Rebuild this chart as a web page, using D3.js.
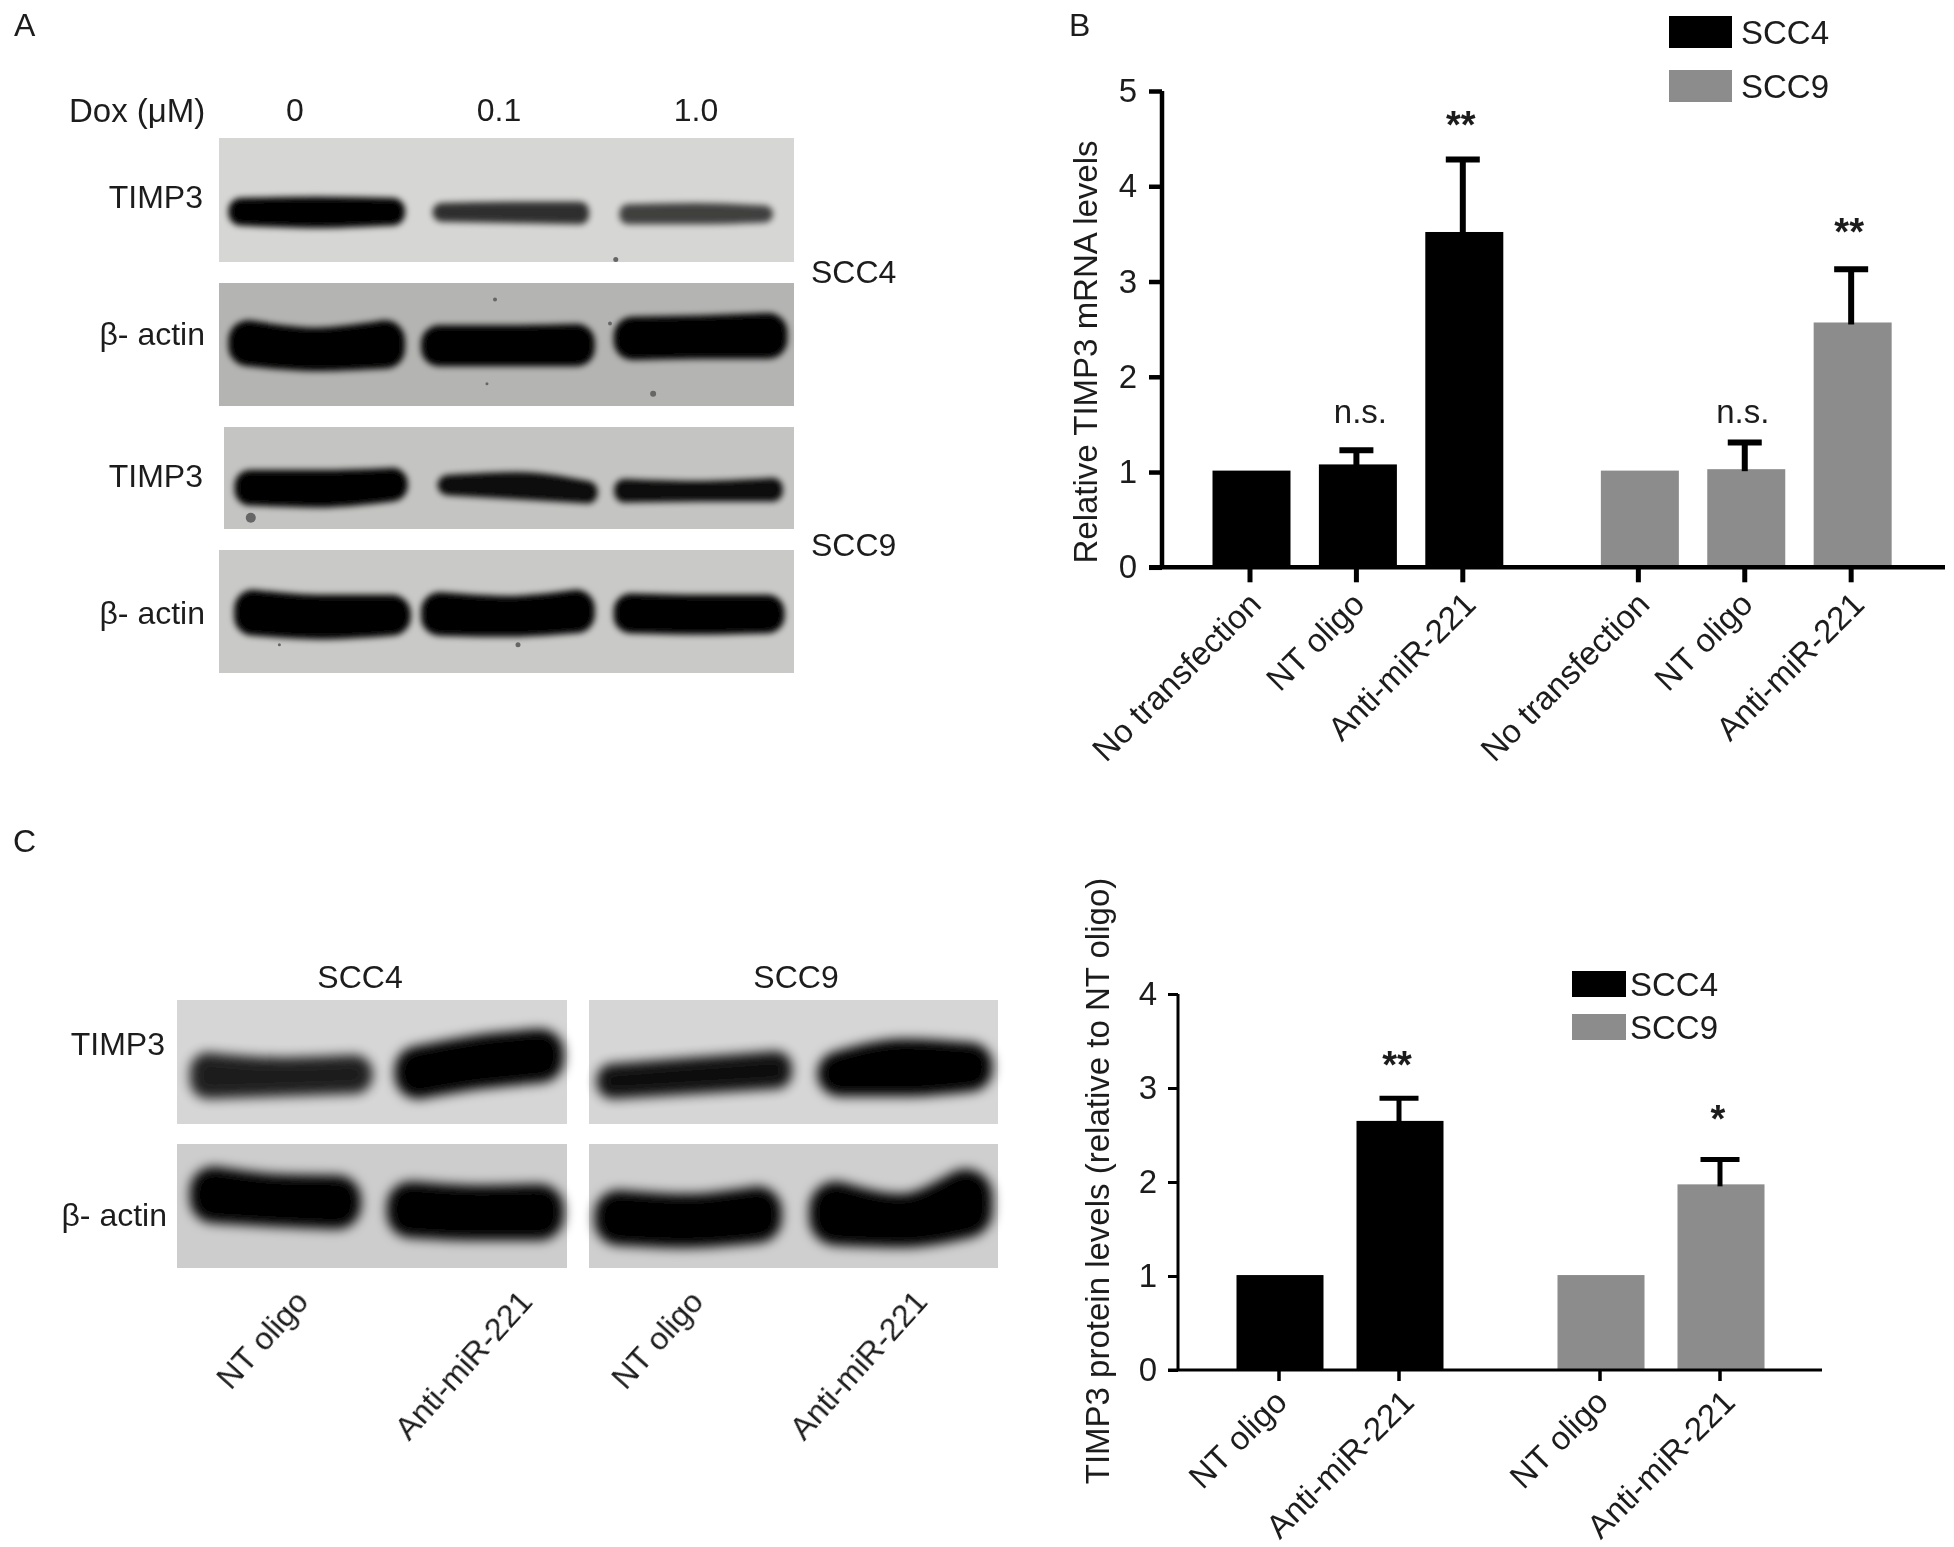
<!DOCTYPE html>
<html><head><meta charset="utf-8">
<script src="https://cdn.jsdelivr.net/npm/d3@7"></script>
<style>html,body{margin:0;background:#fff}svg{display:block}text{font-family:"Liberation Sans",Arial,sans-serif;fill:#1c1c1c}</style>
</head><body><svg id="c" width="1954" height="1547"></svg>
<script>
// ---------- data ----------
const seriesNames = ["SCC4", "SCC9"];
const mrnaCategories = ["No transfection", "NT oligo", "Anti-miR-221"];
const mrnaSCC4 = [1.015, 1.08, 3.52];
const mrnaSCC4Err = [null, 1.23, 4.28];
const mrnaSCC9 = [1.015, 1.03, 2.57];
const mrnaSCC9Err = [null, 1.31, 3.13];
const mrnaSig = [[null, "n.s.", "**"], [null, "n.s.", "**"]];
const proteinCategories = ["NT oligo", "Anti-miR-221"];
const proteinSCC4 = [1.01, 2.65];
const proteinSCC4Err = [null, 2.89];
const proteinSCC9 = [1.01, 1.975];
const proteinSCC9Err = [null, 2.24];
const proteinSig = [[null, "**"], [null, "*"]];
const doxDoses = ["0", "0.1", "1.0"];
// Western-blot bands as fractions of their own blot: [xStart, xEnd, tops, bottoms, darkness]
const bandsA1 = [[.02,.32,[.50,.49,.50],[.69,.71,.69],1],[.375,.64,[.54,.53,.53],[.66,.67,.68],.78],[.70,.96,[.55,.54,.56],[.68,.68,.66],.7]];
const bandsA2 = [[.02,.32,[.32,.38,.32],[.66,.70,.68],1],[.355,.65,[.36,.36,.35],[.66,.66,.66],1],[.69,.985,[.29,.28,.26],[.61,.60,.60],1]];
const bandsA3 = [[.024,.317,[.45,.45,.43],[.74,.76,.70],1],[.38,.65,[.50,.47,.56],[.62,.68,.72],.95],[.69,.975,[.54,.56,.53],[.71,.70,.70],.95]];
const bandsA4 = [[.03,.33,[.34,.38,.38],[.68,.71,.68],1],[.355,.65,[.36,.39,.34],[.68,.69,.66],1],[.69,.98,[.37,.38,.38],[.66,.67,.66],1]];
const bandsCTL = [[.045,.49,[.46,.50,.48],[.76,.74,.72],.85],[.57,.98,[.41,.32,.27],[.76,.68,.63],1]];
const bandsCTR = [[.03,.485,[.55,.50,.45],[.76,.72,.68],.92],[.57,.975,[.45,.35,.38],[.74,.74,.70],1]];
const bandsCBL = [[.045,.46,[.22,.28,.29],[.60,.63,.65],1],[.55,.98,[.34,.37,.36],[.72,.74,.74],1]];
const bandsCBR = [[.025,.46,[.41,.44,.38],[.78,.80,.76],1],[.55,.975,[.34,.44,.24],[.78,.78,.72],1]];
// Specks on the blots: [x fraction, y fraction, radius]
const specksA1 = [[.69,.98,2.5]];
const specksA2 = [[.48,.135,2],[.68,.33,2],[.755,.9,3],[.466,.82,1.5]];
const specksA3 = [[.047,.89,5]];
const specksA4 = [[.52,.77,2.5],[.105,.77,1.5]];

// ---------- helpers ----------
const root = d3.select("#c");
const defs = root.append("defs");
[[3,"b3"],[6,"b6"],[.6,"soft"]].forEach(([s,id]) =>
  defs.append("filter").attr("id",id).attr("filterUnits","userSpaceOnUse")
      .attr("x",0).attr("y",0).attr("width",1954).attr("height",1547)
      .append("feGaussianBlur").attr("stdDeviation",s));
const svg = root.append("g").attr("filter","url(#soft)");

function label(txt,x,y,size=32,anchor="start",extra={}){
  const t = svg.append("text").attr("x",x).attr("y",y).attr("font-size",size)
    .attr("text-anchor",anchor).attr("dominant-baseline","central").text(txt);
  Object.entries(extra).forEach(([k,v])=>t.attr(k,v));
  return t;
}
function blot(x0,x1,y0,y1,bg,bands,blur,grow,specks=[]){
  const g = svg.append("g");
  g.append("rect").attr("x",x0).attr("y",y0).attr("width",x1-x0).attr("height",y1-y0).attr("fill",bg);
  const sx = d3.scaleLinear().domain([0,1]).range([x0,x1]);
  const sy = d3.scaleLinear().domain([0,1]).range([y0,y1]);
  bands.forEach(([a,b,tops,bots,dark])=>{
    const h = sy(d3.mean(bots))-sy(d3.mean(tops));
    const s = h*.85;
    const xs = d3.scaleLinear().domain([0,tops.length-1]).range([sx(a)+s/2,sx(b)-s/2]);
    const area = d3.area().curve(d3.curveMonotoneX)
      .x((d,i)=>xs(i)).y0((d,i)=>sy(tops[i])+s/2).y1((d,i)=>Math.max(sy(bots[i])-s/2,sy(tops[i])+s/2));
    g.append("path").attr("d",area(tops)).attr("fill","#000").attr("stroke","#000")
      .attr("stroke-width",s+grow).attr("stroke-linejoin","round")
      .attr("opacity",dark).attr("filter",`url(#${blur})`);
  });
  specks.forEach(([fx,fy,r])=>g.append("circle").attr("cx",sx(fx)).attr("cy",sy(fy)).attr("r",r).attr("fill","#666"));
}
function barPanel(o){
  const {cats,series,errs,sig,yMax,yRange,axisX,axisEnd,barW,axisW,tickL,capW,errW,labelDx,labelDy,yFont,yPad} = o;
  const y = d3.scaleLinear().domain([0,yMax]).range(yRange);
  const spot = (gi,i)=> o.x0 + (gi*o.groupGap + i + gi*(cats.length-1))*o.step;
  series.forEach((vals,gi)=>{
    const col = gi? "#8c8c8c":"#000";
    const g = svg.append("g");
    vals.forEach((v,i)=>{
      const cx = spot(gi,i);
      g.append("rect").attr("x",cx-barW/2+o.barShift).attr("width",barW).attr("y",y(v)).attr("height",y(0)-y(v)).attr("fill",col);
      const e = errs[gi][i];
      if(e!=null){
        g.append("line").attr("x1",cx).attr("x2",cx).attr("y1",y(v)+2).attr("y2",y(e)).attr("stroke","#000").attr("stroke-width",errW);
        g.append("line").attr("x1",cx-capW/2).attr("x2",cx+capW/2).attr("y1",y(e)).attr("y2",y(e)).attr("stroke","#000").attr("stroke-width",errW);
      }
      const s = sig[gi][i];
      if(s){
        const top = e!=null? e : v;
        const isStar = s.includes("*");
        label(s,cx+(isStar?-2:o.nsDx[gi]),y(top)+(isStar?o.starOff[gi]:o.nsOff[gi]),isStar?38:33,"middle",isStar?{"font-weight":"bold",fill:"#111"}:{});
      }
    });
  });
  const yAxis = d3.axisLeft(y).ticks(yMax).tickSize(tickL).tickPadding(yPad).tickFormat(d3.format("d"));
  const ga = svg.append("g").attr("transform",`translate(${axisX},0)`).call(yAxis);
  ga.selectAll("path,line").attr("stroke","#000").attr("stroke-width",axisW);
  ga.select("path").attr("d",`M0,${y(0)}V${y(yMax)}`);
  ga.selectAll("text").attr("font-size",yFont).attr("font-family",'"Liberation Sans"').attr("fill","#1c1c1c");
  svg.append("line").attr("x1",axisX-tickL).attr("x2",axisEnd).attr("y1",y(0)).attr("y2",y(0)).attr("stroke","#000").attr("stroke-width",axisW);
  series.forEach((vals,gi)=>vals.forEach((v,i)=>{
    const cx = spot(gi,i);
    svg.append("line").attr("x1",cx).attr("x2",cx).attr("y1",y(0)).attr("y2",y(0)+o.tickB).attr("stroke","#000").attr("stroke-width",axisW+.5);
    const tx = cx+labelDx[i], ty = y(0)+labelDy;
    svg.append("text").attr("transform",`translate(${tx},${ty}) rotate(-45)`).attr("text-anchor","end")
      .attr("font-size",33).text(cats[i]);
  }));
}
function legend(x,ys,w,h,tx,size){
  seriesNames.forEach((n,i)=>{
    svg.append("rect").attr("x",x).attr("y",ys[i]).attr("width",w).attr("height",h).attr("fill",i?"#8c8c8c":"#000");
    label(n,tx,ys[i]+h/2,size);
  });
}

// ---------- panel A ----------
label("A",14,25,32); label("B",1069,25,32); label("C",13,841,32);
label("Dox (μM)",69,110,33);
const doxX = d3.scaleOrdinal().domain(doxDoses).range([295,499,696]);
doxDoses.forEach(d=>label(d,doxX(d),110,32,"middle"));
blot(219,794,138,262,"#d6d6d4",bandsA1,"b3",4,specksA1);
blot(219,794,283,406,"#b4b4b2",bandsA2,"b3",4,specksA2);
blot(224,794,427,529,"#c4c4c2",bandsA3,"b3",6,specksA3);
blot(219,794,550,673,"#c9c9c7",bandsA4,"b3",4,specksA4);
label("TIMP3",203,197,32,"end"); label("β- actin",205,334,32,"end");
label("TIMP3",203,476,32,"end"); label("β- actin",205,613,32,"end");
label(seriesNames[0],811,272,32); label(seriesNames[1],811,545,32);

// ---------- panel C blots ----------
label(seriesNames[0],360,977,32,"middle"); label(seriesNames[1],796,977,32,"middle");
blot(177,567,1000,1124,"#d6d6d6",bandsCTL,"b6",9);
blot(589,998,1000,1124,"#d6d6d6",bandsCTR,"b6",9);
blot(177,567,1144,1268,"#cdcdcd",bandsCBL,"b6",9);
blot(589,998,1144,1268,"#cfcfcf",bandsCBR,"b6",9);
label("TIMP3",165,1044,32,"end"); label("β- actin",167,1215,32,"end");
[[310,0],[534,1],[705,0],[929,1]].forEach(([x,i])=>
  svg.append("text").attr("transform",`translate(${x},1303) rotate(-48)`).attr("text-anchor","end")
     .attr("font-size",32).text(proteinCategories[i]));

// ---------- panel B ----------
barPanel({cats:mrnaCategories,series:[mrnaSCC4,mrnaSCC9],errs:[mrnaSCC4Err,mrnaSCC9Err],sig:mrnaSig,
  yMax:5,x0:1250,step:106.4,groupGap:1.65,barShift:1.5,yRange:[567.3,91],axisX:1162,axisEnd:1945,barW:78,axisW:4.5,tickL:13,tickB:15,
  capW:34,errW:6,labelDx:[13,10,15],labelDy:39,yFont:33,yPad:12,starOff:[-35,-37],nsOff:[-39,-31],nsDx:[4,-2]});
svg.append("text").attr("transform","translate(1085,352) rotate(-90)").attr("text-anchor","middle")
  .attr("dominant-baseline","central").attr("font-size",33).text("Relative TIMP3 mRNA levels");
legend(1669,[16,70],63,32,1741,33);

// ---------- panel C bars ----------
barPanel({cats:proteinCategories,series:[proteinSCC4,proteinSCC9],errs:[proteinSCC4Err,proteinSCC9Err],sig:proteinSig,
  yMax:4,x0:1279,step:120,groupGap:1.675,barShift:1,yRange:[1370,994],axisX:1178,axisEnd:1822,barW:87,axisW:3,tickL:10,tickB:11,
  capW:39,errW:5,labelDx:[10,17],labelDy:34,yFont:33,yPad:11,starOff:[-33,-40],nsOff:[-40,-40],nsDx:[0,0]});
svg.append("text").attr("transform","translate(1097,1181) rotate(-90)").attr("text-anchor","middle")
  .attr("dominant-baseline","central").attr("font-size",33).text("TIMP3 protein levels (relative to NT oligo)");
legend(1572,[971,1014],54,26,1630,33);
</script></body></html>
